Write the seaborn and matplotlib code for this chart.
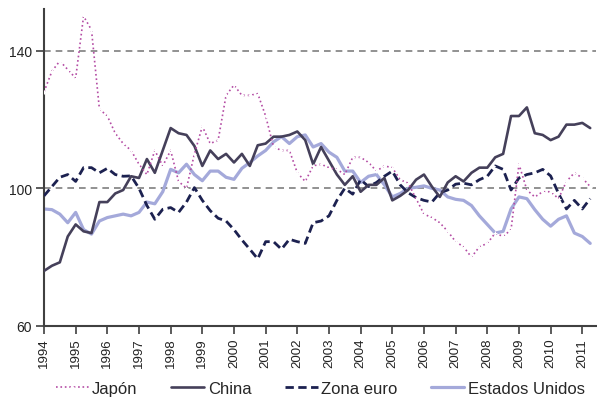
import numpy as np
import pandas as pd
import matplotlib
matplotlib.use("Agg")
import matplotlib.pyplot as plt
import seaborn as sns

# quarterly observations, Q1 1994 .. Q2 2011
start_year = 1994
n_quarters = 70

japon = [128, 134, 137, 134.5, 132, 150, 146, 123, 121, 116, 113, 111,
         107, 104, 111, 106.5, 111, 102, 100, 110, 118, 113, 114, 127,
         130, 127, 127, 127.5, 121, 112, 111, 111, 104.5, 102, 106.5, 107,
         106, 105.5, 104, 109, 109, 107.5, 105, 106.5, 106, 102.5, 101.5, 97,
         92.5, 91.5, 90, 87.5, 84.5, 83, 80, 83, 84, 87, 86, 88,
         107, 99.5, 97.5, 99, 99, 97, 102, 104.5, 103, 100.5]
china = [76, 77.5, 78.5, 86, 89.5, 87.5, 87, 96, 96, 98.5, 99.5, 103.5,
         103, 108.5, 104.5, 111, 117.5, 116, 115.5, 112.3, 106.5, 111, 108.5, 110,
         107.5, 110, 106.5, 112.5, 113, 115, 115, 115.5, 116.5, 114, 107, 112,
         108, 104, 101, 103.5, 99, 101, 101, 103, 96.5, 97.8, 99.5, 102.5,
         104, 100.5, 97.5, 101.7, 103.5, 102, 104.5, 106, 106, 109, 110, 121,
         121, 123.5, 116, 115.5, 114, 115, 118.5, 118.5, 119, 117.5]
zona_euro = [97.8, 100.5, 103.2, 104, 102, 106, 106, 104.5, 105.8, 104, 103.5, 103.6,
             100, 95, 91, 93.9, 94.4, 93, 96, 100.2, 96.5, 93.5, 91.3, 90.5,
             88, 85, 82.3, 79.5, 84.5, 84.5, 82.3, 85.2, 84.5, 84, 90, 90.5,
             92, 96.5, 100, 98.3, 102.5, 100.5, 101.7, 103.5, 105, 101, 98.7, 97.3,
             96.5, 96, 98.7, 99.5, 101.2, 101.5, 101, 102.5, 103.5, 106.5, 105.5, 99.5,
             103, 104, 104.5, 105.5, 103.6, 98.5, 94, 96.5, 94, 97]
estados_unidos = [94, 93.8, 92.5, 90, 93, 88, 86.7, 90.5, 91.5, 92, 92.5, 92,
                  93, 96, 95.5, 99, 105.5, 104.5, 107, 104, 102.2, 105, 105, 103.2,
                  102.6, 105.8, 107.5, 109.4, 111, 113.5, 115, 113, 115, 115.5, 112, 113,
                  110.5, 109, 105, 105, 101.7, 103.5, 104, 101, 97.5, 98.5, 100, 100.3,
                  100.7, 100, 99.5, 97.5, 96.8, 96.5, 95, 92, 89.5, 87, 87.5, 94,
                  97.5, 97, 93.8, 91, 89, 91, 92, 87, 86, 84]

year_labels = [str(y) for y in range(1994, 2012)]
y_ticks = [60, 100, 140]

dates = start_year + np.arange(n_quarters) / 4.0
df = pd.DataFrame({"fecha": dates, "Japón": japon, "China": china,
                   "Zona euro": zona_euro, "Estados Unidos": estados_unidos})

sns.set_theme(style="white")
plt.rcParams["font.family"] = ["Liberation Sans", "DejaVu Sans"]

fig = plt.figure(figsize=(5.97, 4.06), dpi=100)
ax_left, ax_w = 0.0737, 0.925
ax = fig.add_axes([ax_left, 0.1946, ax_w, 0.780])

sns.lineplot(data=df, x="fecha", y="Estados Unidos", ax=ax, color="#a4a9da",
             lw=2.3, label="Estados Unidos", zorder=2)
sns.lineplot(data=df, x="fecha", y="Zona euro", ax=ax, color="#1c2150",
             lw=2.0, label="Zona euro", zorder=3)
sns.lineplot(data=df, x="fecha", y="China", ax=ax, color="#45405a",
             lw=1.9, label="China", zorder=4)
sns.lineplot(data=df, x="fecha", y="Japón", ax=ax, color="#b44ca4",
             lw=1.2, label="Japón", zorder=5, marker="+", markersize=3,
             markeredgewidth=0.8)

lines = ax.get_lines()
lines[1].set_dashes([3, 1.6])
lines[3].set_linestyle(":")

for yv in [100, 140]:
    ax.axhline(yv, color="#7f7f7f", lw=1.2, ls=(0, (4, 3)), zorder=1)

ax.set_xlim(1994, 2011.44)
ax.set_ylim(60, 152)
ax.set_xticks(range(1994, 2012))
ax.set_xticklabels(year_labels, rotation=90, fontsize=9.5, color="#222222")
ax.set_yticks(y_ticks)
ax.set_yticklabels([str(v) for v in y_ticks], fontsize=10, color="#222222")
ax.set_xlabel("")
ax.set_ylabel("")

for s in ["top", "right"]:
    ax.spines[s].set_visible(False)
for s in ["left", "bottom"]:
    ax.spines[s].set_color("#404040")
    ax.spines[s].set_linewidth(1.5)
ax.tick_params(axis="both", which="major", direction="out", length=5.5,
               width=1.2, color="#404040", bottom=True, left=True, pad=3)

handles, labels = ax.get_legend_handles_labels()
ax.get_legend().remove()
order = ["Japón", "China", "Zona euro", "Estados Unidos"]
hmap = dict(zip(labels, handles))
fig.legend([hmap[k] for k in order], order, loc="center",
           bbox_to_anchor=(ax_left + ax_w / 2, 0.04),
           ncol=4, frameon=False, fontsize=12, handlelength=2.0,
           handletextpad=0.2, columnspacing=2.0)

fig.savefig("out.png", dpi=100)
